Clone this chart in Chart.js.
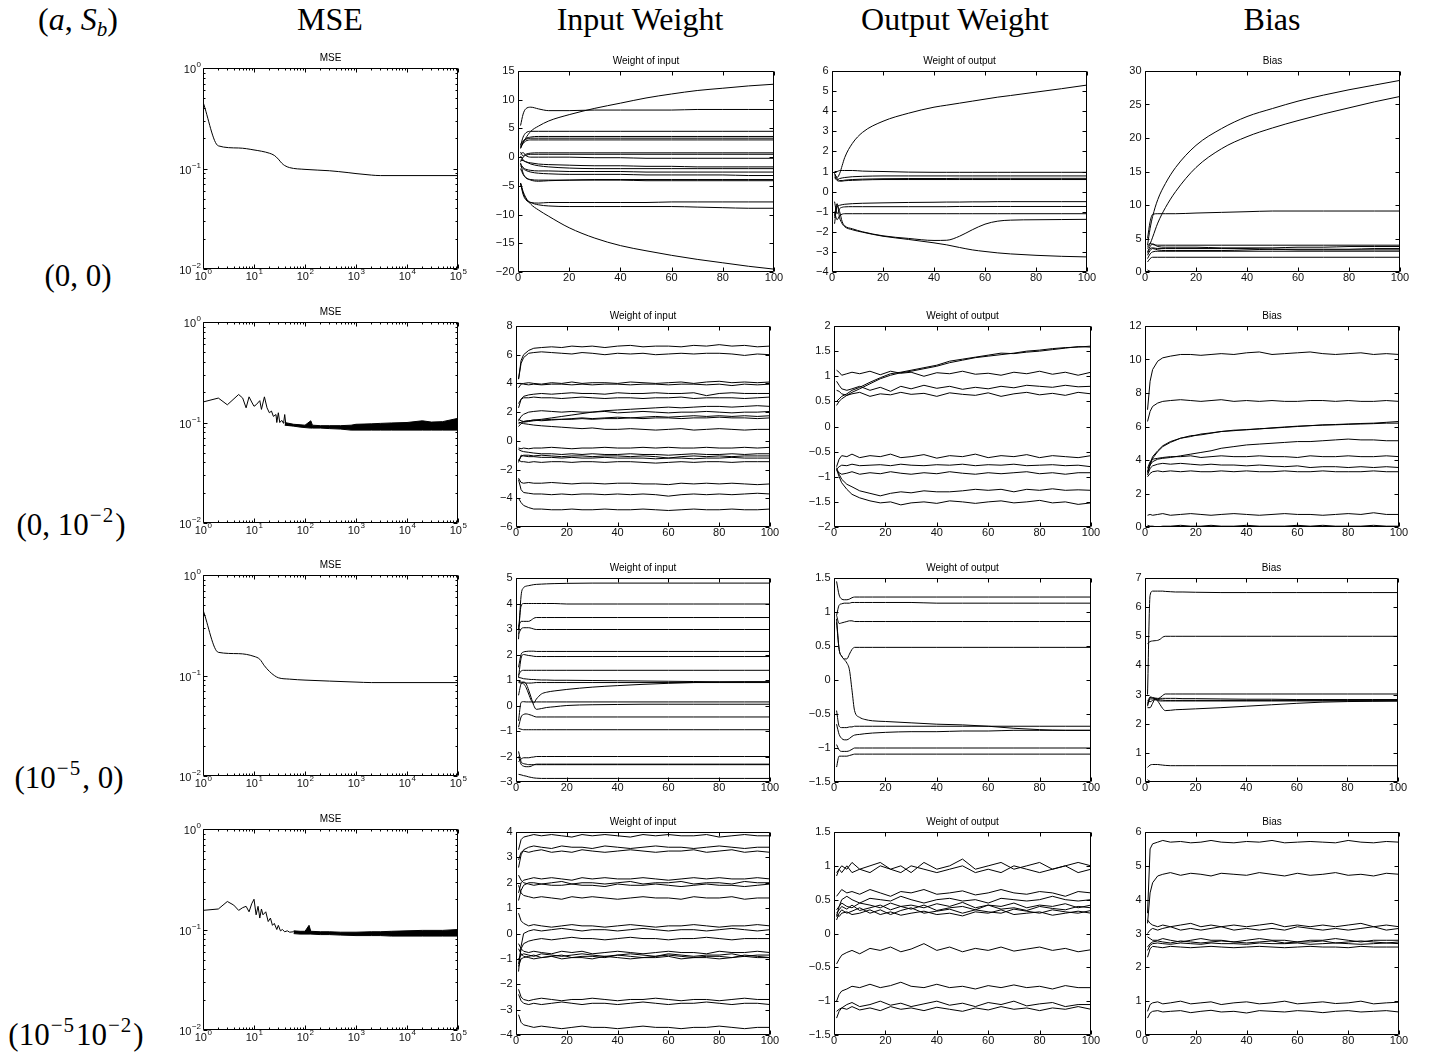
<!DOCTYPE html>
<html><head><meta charset="utf-8">
<script src="https://cdn.jsdelivr.net/npm/chart.js@4.4.1/dist/chart.umd.min.js"></script>
<style>
html,body{margin:0;padding:0;background:#fff}
body{width:1436px;height:1059px;overflow:hidden;position:relative;font-family:"Liberation Serif","Times New Roman",serif}
.h{position:absolute;font-size:32px;line-height:32px;white-space:nowrap;transform:translateX(-50%);color:#000;z-index:5}
.r{font-size:31px;line-height:31px}
.h sup{font-size:21px;position:relative;top:-13px;vertical-align:baseline;line-height:0;letter-spacing:1px;margin:0 1px}
.h sub{font-size:21px;position:relative;top:6px;vertical-align:baseline;line-height:0}
canvas{position:absolute}
</style></head><body>
<div class="h" style="left:78px;top:3px">(<i>a</i>, <i>S<sub>b</sub></i>)</div>
<div class="h" style="left:330px;top:3px">MSE</div>
<div class="h" style="left:640px;top:3px">Input Weight</div>
<div class="h" style="left:955px;top:3px">Output Weight</div>
<div class="h" style="left:1272px;top:3px">Bias</div>
<div class="h r" style="left:78px;top:260px">(0, 0)</div>
<div class="h r" style="left:71px;top:509px">(0, 10<sup>−2</sup>)</div>
<div class="h r" style="left:69px;top:762px">(10<sup>−5</sup>, 0)</div>
<div class="h r" style="left:76px;top:1019px">(10<sup>−5</sup>10<sup>−2</sup>)</div>
<script>
// ---------------- shared x samples (iterations) ----------------
const X_A = [1,2,3,5,8,12,20,30,40,50,60,70,80,90,100];
const X_B = [1,2,3,4,5,8,12,20,30,40,45,50,55,60,65,70,80,90,100];
const X_N = [1,2,3,5,7,10,14,18,22,26,30,35,40,45,50,55,60,65,70,75,80,85,90,95,100];
const X_C = [1,2,3,4,5,6,7,8,10,12,15,20,30,40,50,60,70,80,90,100];
const MSE_X_TICKS = [1,10,100,1000,10000,100000];
const MSE_Y_TICKS = [0.01,0.1,1];

// ---------------- row 1 : (0,0) ----------------
const r1MseX = [1,2,5,10,20,25,30,35,40,50,100,300,700,1000,2000,3000,100000];
const r1MseY = [0.46,0.168,0.16,0.153,0.142,0.135,0.124,0.113,0.107,0.102,0.098,0.095,0.091,0.089,0.086,0.085,0.085];
const r1In = [
 [1.5,2.5,3.3,4.5,5.4,6.3,7.4,8.5,9.4,10.3,11.0,11.6,12.0,12.4,12.7],
 [5.5,7.5,8.4,8.7,8.4,8.1,8.1,8.2,8.2,8.2,8.2,8.3,8.3,8.3,8.3],
 [2.0,3.5,4.2,4.5,4.5,4.5,4.5,4.5,4.5,4.5,4.5,4.5,4.5,4.5,4.5],
 [1.6,2.6,3.2,3.5,3.6,3.6,3.6,3.6,3.6,3.6,3.6,3.6,3.6,3.6,3.6],
 [2.2,2.8,3.1,3.3,3.3,3.3,3.3,3.3,3.3,3.3,3.3,3.3,3.3,3.3,3.3],
 [1.8,2.4,2.8,3.0,3.0,3.0,3.0,3.0,3.0,3.0,3.0,3.0,3.0,3.0,3.0],
 [0.9,0.2,0.5,0.7,0.75,0.75,0.75,0.75,0.75,0.75,0.75,0.75,0.75,0.75,0.75],
 [-0.8,0.0,0.3,0.5,0.5,0.5,0.5,0.5,0.5,0.5,0.5,0.5,0.5,0.5,0.5],
 [0.5,0.8,0.3,0.0,0.0,0.0,0.0,-0.1,-0.1,-0.2,-0.2,-0.2,-0.2,-0.2,-0.2],
 [0.2,-0.5,-0.8,-1.0,-1.2,-1.3,-1.4,-1.5,-1.5,-1.6,-1.6,-1.7,-1.7,-1.7,-1.7],
 [-0.5,-0.6,-0.8,-1.2,-1.5,-1.7,-1.9,-2.0,-2.0,-2.0,-2.0,-2.0,-2.0,-2.0,-2.0],
 [-1.2,-1.8,-2.1,-2.3,-2.4,-2.4,-2.5,-2.5,-2.5,-2.6,-2.6,-2.6,-2.6,-2.6,-2.6],
 [-1.5,-2.0,-2.3,-2.6,-2.8,-2.9,-3.0,-3.0,-3.0,-3.1,-3.1,-3.1,-3.1,-3.2,-3.2],
 [-1.0,-2.8,-3.5,-4.0,-4.2,-4.1,-4.0,-3.9,-3.9,-3.9,-3.9,-3.9,-3.9,-3.9,-3.9],
 [-2.0,-3.0,-3.6,-3.9,-4.0,-4.0,-4.0,-4.0,-4.0,-4.1,-4.1,-4.1,-4.1,-4.1,-4.1],
 [-4.5,-6.5,-7.4,-7.9,-8.0,-7.9,-7.9,-7.9,-7.9,-7.9,-7.8,-7.8,-7.8,-7.8,-7.8],
 [-4.6,-6.2,-7.2,-7.9,-8.3,-8.5,-8.6,-8.6,-8.6,-8.6,-8.6,-8.7,-8.8,-8.9,-8.9],
 [-4.5,-6.0,-7.0,-8.2,-9.2,-10.3,-12.3,-14.1,-15.4,-16.3,-17.1,-17.8,-18.4,-19.0,-19.5]
];
const r1Out = [
 [0.9,0.7,0.9,1.3,1.7,2.4,2.95,3.5,3.9,4.2,4.3,4.4,4.5,4.6,4.7,4.78,4.95,5.12,5.3],
 [1.0,1.0,1.05,1.05,1.05,1.05,1.02,1.0,0.97,0.96,0.96,0.96,0.96,0.96,0.96,0.96,0.96,0.96,0.96],
 [0.8,0.6,0.65,0.68,0.7,0.74,0.76,0.78,0.78,0.78,0.78,0.78,0.78,0.78,0.78,0.78,0.78,0.78,0.78],
 [0.9,0.65,0.55,0.55,0.57,0.6,0.62,0.64,0.65,0.65,0.65,0.66,0.66,0.66,0.66,0.66,0.66,0.66,0.66],
 [0.7,0.55,0.52,0.52,0.54,0.56,0.58,0.6,0.6,0.6,0.6,0.6,0.6,0.6,0.6,0.6,0.6,0.6,0.6],
 [-1.3,-0.75,-0.68,-0.65,-0.63,-0.6,-0.58,-0.56,-0.54,-0.53,-0.52,-0.52,-0.51,-0.51,-0.5,-0.5,-0.5,-0.5,-0.5],
 [-0.5,-1.1,-0.85,-0.78,-0.76,-0.75,-0.75,-0.75,-0.75,-0.75,-0.75,-0.74,-0.74,-0.74,-0.74,-0.74,-0.74,-0.74,-0.74],
 [-1.0,-1.4,-1.2,-1.12,-1.1,-1.1,-1.1,-1.1,-1.1,-1.1,-1.1,-1.1,-1.1,-1.1,-1.1,-1.1,-1.1,-1.1,-1.1],
 [-1.6,-0.7,-1.0,-1.5,-1.7,-1.85,-2.0,-2.2,-2.33,-2.43,-2.42,-2.22,-1.9,-1.62,-1.47,-1.42,-1.4,-1.39,-1.38],
 [-1.2,-0.6,-1.3,-1.6,-1.75,-1.9,-2.02,-2.22,-2.38,-2.55,-2.65,-2.78,-2.9,-2.98,-3.05,-3.1,-3.17,-3.22,-3.25]
];
const r1Bias = [
 [4.0,6.5,8.3,10.8,13.2,15.6,18.9,21.4,23.2,24.4,25.5,26.4,27.2,27.9,28.6],
 [3.5,4.2,5.2,7.3,9.6,12.0,15.6,18.4,20.2,21.5,22.6,23.6,24.5,25.4,26.2],
 [5.0,7.5,8.6,8.7,8.7,8.7,8.8,8.9,9.0,9.1,9.1,9.1,9.1,9.1,9.1],
 [3.8,4.3,4.1,4.0,4.0,4.0,4.0,4.0,4.0,4.0,4.0,4.0,4.0,4.0,4.0],
 [3.0,3.8,4.2,3.8,3.7,3.7,3.7,3.6,3.6,3.6,3.7,3.7,3.8,3.8,3.8],
 [2.8,3.5,3.6,3.5,3.5,3.5,3.5,3.5,3.5,3.4,3.4,3.4,3.4,3.5,3.5],
 [2.5,3.2,3.5,3.3,3.2,3.2,3.2,3.2,3.3,3.4,3.3,3.3,3.3,3.3,3.3],
 [2.0,2.7,3.0,3.1,3.1,3.1,3.1,3.1,3.1,3.1,3.1,3.1,3.1,3.1,3.1],
 [1.5,2.0,2.2,2.2,2.2,2.2,2.2,2.2,2.2,2.2,2.2,2.2,2.2,2.2,2.2],
 [0.3,0.1,0.05,0.02,0,0,0,0,0,0,0,0,0,0,0]
];

// ---------------- row 2 : (0, 1e-2) ----------------
const r2MseX = [1,2,3,5,6,7,8,9,10,11,13,14,16,18,20,22,24,27,28,30,32,35,38,40,42,50,70];
const r2MseY = [0.16,0.175,0.15,0.19,0.175,0.14,0.18,0.16,0.145,0.15,0.165,0.135,0.18,0.14,0.125,0.13,0.115,0.12,0.1,0.125,0.1,0.105,0.098,0.12,0.097,0.094,0.093];
const r2BandX = [40,60,80,100,130,140,200,300,500,800,1000,2000,3000,5000,10000,20000,30000,50000,100000];
const r2BandHi = [0.1,0.096,0.095,0.094,0.104,0.094,0.093,0.093,0.093,0.094,0.096,0.097,0.098,0.099,0.1,0.104,0.101,0.102,0.11];
const r2BandLo = [0.094,0.092,0.09,0.089,0.088,0.088,0.088,0.087,0.086,0.084,0.084,0.084,0.084,0.084,0.084,0.084,0.084,0.084,0.084];
const r2In = [
 [4.3,5.6,6.0,6.3,6.45,6.5,6.55,6.5,6.6,6.55,6.6,6.5,6.6,6.65,6.55,6.6,6.6,6.55,6.65,6.6,6.7,6.6,6.65,6.55,6.6],
 [4.3,5.4,5.8,6.1,6.15,6.2,6.15,6.1,6.05,6.15,6.1,6.0,6.1,6.05,6.1,6.0,6.05,6.1,6.05,6.1,6.1,6.05,5.95,6.05,6.0],
 [3.7,3.95,4.0,4.05,4.0,3.95,4.05,4.0,4.1,4.0,4.05,4.05,4.0,4.1,4.05,4.0,4.05,4.1,4.0,4.1,4.15,4.05,4.1,4.05,4.1],
 [4.0,4.0,3.95,3.9,3.95,3.9,3.95,3.95,3.9,3.95,3.9,3.95,3.95,3.9,3.95,3.95,3.9,3.95,3.95,3.9,3.95,3.85,3.95,3.9,3.95],
 [2.3,2.9,3.1,3.2,3.25,3.3,3.25,3.3,3.35,3.3,3.3,3.25,3.35,3.3,3.3,3.35,3.3,3.3,3.35,3.15,3.3,3.35,3.3,3.3,3.3],
 [2.6,2.9,3.0,3.0,3.05,3.0,3.0,2.95,3.0,3.05,3.0,2.95,3.0,3.0,2.95,3.0,3.0,3.05,2.95,3.0,3.0,3.0,2.95,3.0,3.05],
 [1.5,1.4,1.35,1.4,1.45,1.5,1.6,1.7,1.8,1.9,2.0,2.1,2.15,2.2,2.25,2.3,2.35,2.3,2.35,2.4,2.4,2.35,2.4,2.45,2.4],
 [1.4,1.7,1.85,2.0,2.05,2.1,2.05,2.0,2.05,2.0,2.0,2.05,1.95,2.0,2.05,2.0,1.95,2.0,2.0,2.05,2.0,1.95,2.0,2.0,2.05],
 [1.0,1.2,1.3,1.35,1.4,1.45,1.5,1.5,1.55,1.6,1.55,1.6,1.65,1.6,1.65,1.7,1.65,1.7,1.75,1.7,1.75,1.7,1.75,1.7,1.75],
 [1.2,1.3,1.35,1.4,1.45,1.4,1.45,1.5,1.5,1.55,1.5,1.55,1.55,1.6,1.55,1.6,1.6,1.55,1.6,1.6,1.65,1.6,1.6,1.55,1.6],
 [1.3,1.25,1.2,1.15,1.1,1.05,1.0,0.95,0.9,0.85,0.9,0.8,0.8,0.85,0.8,0.75,0.8,0.85,0.75,0.8,0.85,0.8,0.75,0.8,0.8],
 [-0.5,-0.55,-0.5,-0.55,-0.5,-0.5,-0.45,-0.5,-0.55,-0.5,-0.5,-0.45,-0.5,-0.5,-0.45,-0.5,-0.45,-0.5,-0.5,-0.45,-0.5,-0.5,-0.45,-0.5,-0.45],
 [-0.6,-0.7,-0.75,-0.8,-0.85,-0.9,-0.9,-0.95,-0.9,-0.95,-0.9,-0.95,-0.95,-0.9,-0.95,-0.95,-1.0,-0.95,-0.9,-0.95,-0.95,-0.9,-0.95,-0.9,-0.9],
 [-1.4,-1.1,-1.0,-1.0,-1.05,-1.0,-1.05,-1.1,-1.05,-1.05,-1.1,-1.05,-1.05,-1.1,-1.05,-1.1,-1.2,-1.1,-1.05,-1.1,-1.05,-1.1,-1.05,-1.05,-1.05],
 [-1.5,-1.0,-1.05,-1.1,-1.1,-1.15,-1.15,-1.2,-1.15,-1.2,-1.2,-1.15,-1.2,-1.2,-1.2,-1.25,-1.2,-1.2,-1.25,-1.2,-1.2,-1.15,-1.2,-1.2,-1.2],
 [-1.3,-1.45,-1.45,-1.5,-1.45,-1.5,-1.45,-1.45,-1.5,-1.45,-1.45,-1.5,-1.45,-1.45,-1.5,-1.55,-1.5,-1.45,-1.5,-1.45,-1.45,-1.5,-1.45,-1.45,-1.45],
 [-2.6,-2.9,-2.95,-2.9,-2.95,-2.95,-2.9,-2.95,-3.0,-2.95,-2.95,-3.0,-2.95,-2.95,-3.0,-3.0,-3.05,-2.95,-3.0,-2.95,-3.0,-2.95,-3.0,-3.05,-3.0],
 [-2.7,-3.4,-3.6,-3.65,-3.7,-3.7,-3.75,-3.7,-3.75,-3.7,-3.7,-3.75,-3.7,-3.75,-3.7,-3.75,-3.85,-3.75,-3.7,-3.75,-3.7,-3.75,-3.7,-3.65,-3.7],
 [-4.0,-4.3,-4.5,-4.65,-4.75,-4.75,-4.8,-4.8,-4.75,-4.8,-4.8,-4.75,-4.8,-4.8,-4.75,-4.8,-4.85,-4.8,-4.75,-4.8,-4.8,-4.75,-4.8,-4.8,-4.75]
];
const r2Out = [
 [0.42,0.5,0.55,0.62,0.68,0.75,0.85,0.95,1.02,1.07,1.1,1.15,1.2,1.27,1.32,1.37,1.4,1.43,1.46,1.5,1.52,1.55,1.57,1.58,1.6],
 [0.5,0.55,0.6,0.65,0.72,0.78,0.88,0.97,1.05,1.08,1.12,1.17,1.22,1.3,1.34,1.38,1.42,1.46,1.45,1.48,1.5,1.53,1.56,1.59,1.58],
 [1.12,1.08,1.02,1.05,1.08,1.05,1.1,1.03,1.1,1.06,1.08,1.0,1.07,1.05,1.1,1.04,1.06,1.02,1.08,1.05,1.1,1.04,1.08,1.02,1.08],
 [0.9,0.82,0.75,0.72,0.75,0.8,0.72,0.78,0.7,0.8,0.75,0.82,0.76,0.8,0.74,0.78,0.75,0.8,0.77,0.82,0.8,0.78,0.82,0.79,0.8],
 [0.72,0.7,0.65,0.62,0.65,0.68,0.6,0.65,0.63,0.68,0.64,0.66,0.6,0.67,0.64,0.62,0.67,0.6,0.65,0.68,0.63,0.66,0.62,0.68,0.65],
 [-0.8,-0.65,-0.58,-0.6,-0.55,-0.62,-0.58,-0.6,-0.55,-0.62,-0.6,-0.56,-0.63,-0.58,-0.6,-0.55,-0.62,-0.58,-0.6,-0.56,-0.62,-0.58,-0.6,-0.62,-0.58],
 [-0.85,-0.8,-0.77,-0.78,-0.75,-0.78,-0.77,-0.76,-0.78,-0.75,-0.77,-0.78,-0.76,-0.77,-0.75,-0.78,-0.76,-0.77,-0.75,-0.78,-0.77,-0.76,-0.78,-0.77,-0.8],
 [-0.88,-0.92,-0.95,-0.93,-0.9,-0.95,-0.92,-0.94,-0.9,-0.93,-0.95,-0.92,-0.94,-0.9,-0.93,-0.95,-0.92,-0.94,-0.92,-0.9,-0.94,-0.92,-0.95,-0.92,-0.92],
 [-0.82,-0.95,-1.05,-1.15,-1.2,-1.28,-1.33,-1.38,-1.33,-1.3,-1.32,-1.28,-1.3,-1.3,-1.28,-1.25,-1.27,-1.25,-1.3,-1.25,-1.27,-1.24,-1.27,-1.26,-1.27],
 [-0.85,-1.0,-1.12,-1.25,-1.35,-1.42,-1.48,-1.52,-1.5,-1.56,-1.52,-1.5,-1.53,-1.48,-1.5,-1.53,-1.5,-1.48,-1.52,-1.5,-1.47,-1.52,-1.5,-1.55,-1.52]
];
const r2Bias = [
 [7.0,8.7,9.4,9.9,10.1,10.2,10.3,10.3,10.25,10.3,10.35,10.3,10.4,10.45,10.3,10.35,10.4,10.45,10.35,10.3,10.35,10.4,10.3,10.35,10.3],
 [6.3,6.9,7.2,7.4,7.5,7.55,7.6,7.55,7.5,7.55,7.6,7.5,7.55,7.5,7.55,7.5,7.5,7.55,7.55,7.5,7.55,7.5,7.5,7.55,7.5],
 [3.2,3.7,4.1,4.5,4.8,5.05,5.3,5.45,5.5,5.6,5.7,5.78,5.8,5.87,5.9,5.95,6.0,6.05,6.1,6.12,6.15,6.18,6.2,6.25,6.3],
 [3.3,3.8,4.2,4.55,4.85,5.1,5.3,5.4,5.55,5.62,5.7,5.75,5.82,5.85,5.92,5.97,6.02,6.05,6.08,6.1,6.13,6.15,6.17,6.2,6.2],
 [3.3,3.7,3.9,4.05,4.1,4.15,4.25,4.35,4.45,4.55,4.7,4.8,4.9,4.95,5.0,5.05,5.1,5.1,5.15,5.2,5.25,5.2,5.2,5.15,5.15],
 [3.5,3.9,4.05,4.1,4.15,4.2,4.2,4.25,4.15,4.2,4.25,4.2,4.2,4.25,4.2,4.2,4.15,4.25,4.2,4.2,4.25,4.2,4.2,4.25,4.2],
 [3.1,3.5,3.65,3.75,3.8,3.75,3.8,3.75,3.7,3.75,3.7,3.7,3.65,3.7,3.65,3.6,3.65,3.55,3.6,3.6,3.55,3.6,3.55,3.6,3.55],
 [3.0,3.2,3.3,3.35,3.3,3.35,3.3,3.35,3.3,3.3,3.35,3.3,3.35,3.3,3.3,3.35,3.3,3.3,3.35,3.3,3.3,3.3,3.35,3.3,3.3],
 [0.7,0.75,0.7,0.75,0.8,0.7,0.75,0.8,0.75,0.7,0.75,0.8,0.75,0.7,0.75,0.8,0.75,0.75,0.7,0.75,0.8,0.75,0.85,0.75,0.75],
 [0.1,0.05,0.05,0.0,0.05,0.05,0.1,0.05,0.05,0.1,0.05,0.05,0.1,0.05,0.05,0.05,0.1,0.05,0.1,0.05,0.05,0.05,0.1,0.05,0.05],
 [0.0,0.02,0.0,0.01,0.0,0.02,0.0,0.01,0.0,0.02,0.0,0.01,0.0,0.02,0.0,0.01,0.0,0.02,0.0,0.01,0.0,0.02,0.0,0.01,0.0]
];

// ---------------- row 3 : (1e-5, 0) ----------------
const r3MseX = [1,2,5,10,13,16,20,25,30,50,100,300,1000,2000,100000];
const r3MseY = [0.45,0.17,0.165,0.155,0.145,0.125,0.11,0.1,0.095,0.092,0.09,0.088,0.086,0.085,0.085];
const r3In = [
 [2.6,4.3,4.62,4.68,4.7,4.72,4.74,4.75,4.76,4.77,4.78,4.79,4.8,4.8,4.8,4.8,4.8,4.8,4.8,4.8],
 [3.0,3.9,4.0,4.0,4.0,4.0,4.0,4.0,4.0,4.0,4.0,3.98,3.98,3.98,3.98,3.98,3.98,3.98,3.98,3.98],
 [3.1,3.3,3.3,3.3,3.3,3.35,3.42,3.45,3.45,3.45,3.45,3.45,3.45,3.45,3.45,3.45,3.45,3.45,3.45,3.45],
 [2.8,3.0,3.05,3.05,3.05,3.03,3.0,2.98,2.98,2.98,2.98,2.98,2.98,2.98,2.98,2.98,2.98,2.98,2.98,2.98],
 [1.5,2.0,2.1,2.12,2.13,2.13,2.13,2.12,2.12,2.12,2.12,2.12,2.12,2.12,2.12,2.12,2.12,2.12,2.12,2.12],
 [1.1,1.85,2.0,1.98,1.96,1.95,1.93,1.92,1.92,1.92,1.92,1.92,1.92,1.92,1.92,1.92,1.92,1.92,1.92,1.92],
 [1.2,1.35,1.38,1.38,1.38,1.38,1.38,1.38,1.38,1.38,1.38,1.38,1.38,1.38,1.38,1.38,1.38,1.38,1.38,1.38],
 [1.1,1.08,1.05,1.04,1.03,1.02,1.02,1.01,1.0,1.0,0.99,0.99,0.98,0.97,0.96,0.95,0.94,0.93,0.93,0.93],
 [0.95,0.92,0.9,0.88,0.88,0.88,0.89,0.9,0.9,0.9,0.9,0.9,0.9,0.9,0.9,0.9,0.9,0.9,0.9,0.9],
 [0.9,0.88,0.85,0.7,0.45,0.2,0.1,0.25,0.45,0.52,0.57,0.63,0.72,0.78,0.83,0.87,0.9,0.92,0.93,0.93],
 [0.4,0.85,0.92,0.85,0.6,0.3,0.0,-0.15,-0.12,-0.08,-0.05,0.0,0.03,0.04,0.05,0.05,0.05,0.05,0.05,0.05],
 [-0.6,0.12,0.15,0.14,0.14,0.14,0.14,0.14,0.14,0.14,0.14,0.14,0.14,0.14,0.14,0.14,0.14,0.14,0.14,0.14],
 [-0.85,-0.45,-0.35,-0.33,-0.35,-0.38,-0.42,-0.45,-0.45,-0.45,-0.45,-0.45,-0.45,-0.45,-0.45,-0.45,-0.45,-0.45,-0.45,-0.45],
 [-0.9,-0.93,-0.95,-0.95,-0.95,-0.95,-0.95,-0.95,-0.95,-0.95,-0.95,-0.95,-0.95,-0.95,-0.95,-0.95,-0.95,-0.95,-0.95,-0.95],
 [-2.2,-2.1,-2.05,-2.05,-2.05,-2.03,-2.02,-2.0,-2.0,-2.0,-2.0,-2.0,-2.0,-2.0,-2.0,-2.0,-2.0,-2.0,-2.0,-2.0],
 [-2.0,-2.3,-2.38,-2.4,-2.4,-2.38,-2.33,-2.3,-2.3,-2.3,-2.3,-2.3,-2.3,-2.3,-2.3,-2.3,-2.3,-2.3,-2.3,-2.3],
 [-1.8,-2.2,-2.28,-2.3,-2.32,-2.32,-2.32,-2.32,-2.32,-2.32,-2.32,-2.32,-2.32,-2.32,-2.32,-2.32,-2.32,-2.32,-2.32,-2.32],
 [-2.7,-2.72,-2.75,-2.77,-2.8,-2.82,-2.84,-2.85,-2.86,-2.86,-2.86,-2.86,-2.86,-2.86,-2.86,-2.86,-2.86,-2.86,-2.86,-2.86]
];
const r3Out = [
 [1.45,1.25,1.19,1.18,1.18,1.19,1.21,1.22,1.22,1.22,1.22,1.22,1.22,1.22,1.22,1.22,1.22,1.22,1.22,1.22],
 [0.95,1.1,1.12,1.13,1.13,1.13,1.14,1.14,1.14,1.14,1.14,1.14,1.14,1.13,1.13,1.13,1.13,1.13,1.13,1.13],
 [0.95,0.83,0.84,0.85,0.86,0.87,0.87,0.86,0.86,0.86,0.86,0.86,0.86,0.86,0.86,0.86,0.86,0.86,0.86,0.86],
 [0.9,0.45,0.35,0.31,0.31,0.38,0.45,0.48,0.48,0.48,0.48,0.48,0.48,0.48,0.48,0.48,0.48,0.48,0.48,0.48],
 [0.85,0.45,0.35,0.3,0.25,0.15,-0.15,-0.45,-0.55,-0.58,-0.6,-0.61,-0.63,-0.65,-0.66,-0.68,-0.71,-0.73,-0.74,-0.74],
 [-0.45,-0.68,-0.7,-0.7,-0.7,-0.69,-0.69,-0.68,-0.68,-0.68,-0.68,-0.68,-0.68,-0.68,-0.68,-0.68,-0.68,-0.68,-0.68,-0.68],
 [-0.65,-0.8,-0.86,-0.88,-0.88,-0.86,-0.83,-0.81,-0.8,-0.79,-0.78,-0.77,-0.76,-0.76,-0.75,-0.75,-0.74,-0.74,-0.74,-0.74],
 [-0.95,-1.03,-1.05,-1.05,-1.05,-1.04,-1.02,-1.0,-1.0,-1.0,-1.0,-1.0,-1.0,-1.0,-1.0,-1.0,-1.0,-1.0,-1.0,-1.0],
 [-1.28,-1.12,-1.12,-1.12,-1.12,-1.11,-1.1,-1.09,-1.09,-1.09,-1.09,-1.09,-1.09,-1.09,-1.09,-1.09,-1.09,-1.09,-1.09,-1.09]
];
const r3Bias = [
 [3.0,6.4,6.55,6.55,6.55,6.55,6.55,6.54,6.53,6.52,6.52,6.51,6.5,6.5,6.5,6.5,6.5,6.5,6.5,6.5],
 [4.75,4.82,4.84,4.85,4.86,4.9,4.97,5.0,5.0,5.0,5.0,5.0,5.0,5.0,5.0,5.0,5.0,5.0,5.0,5.0],
 [2.6,2.9,2.88,2.86,2.85,2.9,2.97,3.02,3.02,3.02,3.02,3.02,3.02,3.02,3.02,3.02,3.02,3.02,3.02,3.02],
 [2.7,2.92,2.9,2.88,2.87,2.87,2.87,2.87,2.87,2.87,2.86,2.86,2.85,2.84,2.84,2.83,2.83,2.83,2.83,2.83],
 [2.65,2.85,2.85,2.84,2.83,2.82,2.81,2.8,2.8,2.8,2.8,2.8,2.8,2.8,2.8,2.8,2.8,2.8,2.8,2.8],
 [2.8,2.75,2.8,2.82,2.8,2.78,2.78,2.78,2.78,2.78,2.78,2.78,2.78,2.78,2.78,2.78,2.78,2.78,2.78,2.78],
 [2.55,2.55,2.7,2.85,2.78,2.65,2.52,2.45,2.46,2.48,2.49,2.51,2.55,2.6,2.65,2.7,2.74,2.76,2.77,2.78],
 [0.5,0.58,0.6,0.6,0.6,0.59,0.58,0.57,0.56,0.56,0.56,0.56,0.56,0.56,0.56,0.56,0.56,0.56,0.56,0.56],
 [0.08,0.02,0.01,0,0,0,0,0,0,0,0,0,0,0,0,0,0,0,0,0]
];

// ---------------- row 4 : (1e-5, 1e-2) ----------------
const r4MseX = [1,2,3,4,5,6,7,8,9,10,11,12,13,14,15,17,19,21,23,25,28,30,33,36,40,45,50,60,70];
const r4MseY = [0.155,0.16,0.19,0.175,0.155,0.165,0.17,0.15,0.18,0.2,0.14,0.17,0.13,0.16,0.14,0.15,0.12,0.13,0.11,0.115,0.1,0.11,0.097,0.1,0.095,0.097,0.094,0.095,0.093];
const r4BandX = [60,80,100,120,130,200,300,500,1000,2000,3000,5000,10000,20000,50000,100000];
const r4BandHi = [0.097,0.096,0.096,0.11,0.096,0.095,0.095,0.094,0.094,0.095,0.095,0.096,0.097,0.098,0.098,0.1];
const r4BandLo = [0.091,0.09,0.09,0.09,0.09,0.089,0.089,0.088,0.087,0.087,0.087,0.086,0.086,0.086,0.086,0.086];
const r4In = [
 [3.3,3.7,3.8,3.85,3.9,3.85,3.9,3.85,3.8,3.9,3.85,3.9,3.85,3.8,3.9,3.85,3.9,3.85,3.85,3.9,3.8,3.85,3.9,3.85,3.85],
 [2.6,3.1,3.3,3.4,3.45,3.4,3.35,3.45,3.4,3.4,3.35,3.45,3.4,3.35,3.4,3.45,3.4,3.4,3.35,3.4,3.45,3.4,3.35,3.4,3.4],
 [2.9,3.2,3.25,3.2,3.25,3.3,3.2,3.25,3.2,3.3,3.25,3.2,3.25,3.3,3.25,3.2,3.25,3.25,3.3,3.2,3.25,3.3,3.2,3.25,3.2],
 [1.6,2.0,2.1,2.15,2.2,2.15,2.2,2.15,2.1,2.2,2.15,2.2,2.15,2.15,2.2,2.15,2.1,2.15,2.2,2.15,2.2,2.15,2.15,2.2,2.15],
 [1.3,1.7,1.9,2.0,2.0,1.95,2.0,2.05,1.95,2.0,2.0,1.95,2.0,2.05,1.95,2.0,2.0,2.05,1.95,2.0,2.0,1.95,2.05,2.0,2.0],
 [2.3,2.1,2.0,1.95,1.9,1.95,1.9,1.9,1.95,1.9,1.9,1.85,1.95,1.9,1.9,1.95,1.9,1.85,1.9,1.95,1.9,1.9,1.85,1.9,1.95],
 [1.9,1.6,1.5,1.45,1.4,1.45,1.4,1.35,1.45,1.4,1.45,1.4,1.35,1.4,1.45,1.4,1.4,1.35,1.45,1.4,1.4,1.45,1.35,1.4,1.4],
 [0.8,0.5,0.4,0.3,0.35,0.3,0.25,0.3,0.35,0.3,0.3,0.25,0.3,0.35,0.3,0.25,0.3,0.3,0.35,0.3,0.25,0.3,0.3,0.35,0.3],
 [-1.5,-0.5,0.0,0.1,0.15,0.1,0.15,0.2,0.15,0.1,0.15,0.15,0.1,0.15,0.2,0.15,0.1,0.15,0.15,0.1,0.15,0.2,0.15,0.1,0.15],
 [-1.2,-0.6,-0.4,-0.3,-0.25,-0.2,-0.25,-0.2,-0.15,-0.2,-0.2,-0.25,-0.2,-0.15,-0.2,-0.2,-0.25,-0.2,-0.2,-0.15,-0.2,-0.25,-0.2,-0.2,-0.2],
 [-0.4,-0.6,-0.7,-0.75,-0.7,-0.75,-0.8,-0.7,-0.75,-0.7,-0.8,-0.75,-0.7,-0.75,-0.8,-0.75,-0.7,-0.75,-0.75,-0.8,-0.7,-0.75,-0.75,-0.7,-0.75],
 [-1.0,-0.85,-0.8,-0.85,-0.9,-0.8,-0.85,-0.9,-0.85,-0.8,-0.85,-0.9,-0.85,-0.8,-0.85,-0.9,-0.8,-0.85,-0.9,-0.85,-0.85,-0.8,-0.9,-0.85,-0.85],
 [-1.3,-1.0,-0.95,-0.9,-0.85,-0.95,-0.9,-0.85,-0.95,-0.9,-0.9,-0.95,-0.85,-0.9,-0.95,-0.9,-0.85,-0.9,-0.95,-0.9,-0.9,-0.95,-0.85,-0.9,-0.95],
 [-0.6,-0.8,-0.9,-0.95,-1.0,-0.95,-0.9,-1.0,-0.95,-0.95,-1.0,-0.9,-0.95,-1.0,-0.95,-0.95,-0.9,-1.0,-0.95,-0.95,-1.0,-0.95,-0.9,-0.95,-0.95],
 [-2.2,-2.5,-2.6,-2.65,-2.6,-2.55,-2.6,-2.65,-2.6,-2.6,-2.55,-2.6,-2.65,-2.6,-2.6,-2.55,-2.6,-2.65,-2.6,-2.6,-2.65,-2.6,-2.55,-2.6,-2.6],
 [-2.4,-2.65,-2.75,-2.8,-2.75,-2.8,-2.75,-2.7,-2.75,-2.8,-2.75,-2.75,-2.8,-2.75,-2.7,-2.75,-2.8,-2.75,-2.75,-2.7,-2.75,-2.8,-2.75,-2.75,-2.8],
 [-3.2,-3.5,-3.6,-3.65,-3.7,-3.65,-3.7,-3.75,-3.7,-3.65,-3.7,-3.7,-3.75,-3.7,-3.65,-3.7,-3.7,-3.75,-3.7,-3.7,-3.65,-3.7,-3.75,-3.7,-3.7]
];
const r4Out = [
 [0.85,0.95,1.0,0.95,1.05,0.95,1.0,1.05,0.95,1.0,0.9,1.05,0.95,1.0,1.1,0.95,1.0,1.05,0.95,1.0,1.05,0.95,1.0,1.05,1.0],
 [0.9,0.95,0.9,1.0,0.9,0.95,0.9,1.0,0.95,0.9,1.0,0.95,0.9,0.95,1.0,0.9,0.95,0.9,1.0,0.95,0.9,0.95,1.0,0.9,0.95],
 [0.55,0.6,0.65,0.6,0.62,0.58,0.65,0.6,0.55,0.62,0.6,0.65,0.58,0.6,0.63,0.57,0.6,0.65,0.6,0.58,0.62,0.6,0.55,0.62,0.6],
 [0.25,0.4,0.5,0.55,0.5,0.45,0.52,0.5,0.48,0.55,0.5,0.45,0.5,0.52,0.48,0.5,0.45,0.52,0.5,0.48,0.5,0.55,0.5,0.48,0.5],
 [0.35,0.4,0.45,0.4,0.38,0.45,0.42,0.38,0.45,0.4,0.42,0.38,0.44,0.4,0.46,0.38,0.42,0.4,0.45,0.38,0.42,0.4,0.44,0.38,0.42],
 [0.3,0.35,0.4,0.36,0.42,0.34,0.38,0.42,0.35,0.4,0.36,0.42,0.34,0.38,0.4,0.35,0.42,0.36,0.38,0.34,0.4,0.37,0.35,0.4,0.38],
 [0.2,0.3,0.35,0.3,0.33,0.38,0.3,0.35,0.28,0.34,0.38,0.3,0.33,0.36,0.3,0.35,0.32,0.3,0.36,0.33,0.3,0.35,0.32,0.3,0.34],
 [0.28,0.25,0.3,0.32,0.28,0.3,0.35,0.28,0.32,0.27,0.3,0.33,0.28,0.3,0.26,0.32,0.3,0.35,0.28,0.3,0.32,0.27,0.3,0.33,0.3],
 [-0.45,-0.38,-0.32,-0.28,-0.25,-0.3,-0.22,-0.25,-0.2,-0.27,-0.23,-0.15,-0.25,-0.2,-0.27,-0.22,-0.25,-0.2,-0.26,-0.23,-0.2,-0.25,-0.22,-0.27,-0.24],
 [-1.0,-0.9,-0.85,-0.82,-0.78,-0.8,-0.75,-0.8,-0.77,-0.72,-0.78,-0.8,-0.75,-0.8,-0.78,-0.82,-0.77,-0.8,-0.76,-0.8,-0.78,-0.82,-0.77,-0.8,-0.8],
 [-1.25,-1.15,-1.1,-1.05,-1.02,-1.08,-1.05,-1.0,-1.06,-1.03,-1.08,-1.04,-1.0,-1.06,-1.03,-1.08,-1.02,-1.05,-1.0,-1.07,-1.04,-1.02,-1.08,-1.05,-1.05],
 [-1.15,-1.12,-1.1,-1.12,-1.08,-1.13,-1.1,-1.14,-1.08,-1.12,-1.1,-1.14,-1.09,-1.12,-1.15,-1.1,-1.13,-1.08,-1.12,-1.1,-1.14,-1.1,-1.12,-1.08,-1.12]
];
const r4Bias = [
 [3.6,5.5,5.65,5.7,5.75,5.7,5.72,5.68,5.7,5.75,5.7,5.68,5.72,5.7,5.75,5.68,5.7,5.72,5.7,5.68,5.75,5.7,5.68,5.72,5.7],
 [3.3,4.2,4.5,4.7,4.75,4.8,4.72,4.78,4.75,4.7,4.78,4.75,4.72,4.8,4.75,4.7,4.78,4.72,4.75,4.8,4.72,4.75,4.7,4.78,4.75],
 [3.4,3.3,3.25,3.2,3.25,3.2,3.25,3.3,3.2,3.25,3.2,3.25,3.2,3.25,3.3,3.2,3.25,3.2,3.25,3.2,3.25,3.3,3.2,3.25,3.2],
 [3.0,3.1,3.15,3.1,3.15,3.2,3.1,3.15,3.1,3.15,3.2,3.1,3.15,3.1,3.15,3.1,3.2,3.15,3.1,3.15,3.1,3.15,3.2,3.1,3.15],
 [2.9,2.85,2.8,2.8,2.85,2.8,2.75,2.8,2.85,2.8,2.8,2.75,2.8,2.85,2.8,2.8,2.75,2.8,2.8,2.85,2.8,2.75,2.8,2.8,2.8],
 [2.6,2.7,2.75,2.78,2.75,2.72,2.78,2.75,2.72,2.75,2.78,2.75,2.72,2.75,2.78,2.72,2.75,2.75,2.78,2.72,2.75,2.78,2.75,2.72,2.75],
 [2.5,2.65,2.7,2.72,2.7,2.68,2.72,2.7,2.68,2.72,2.7,2.7,2.68,2.72,2.7,2.7,2.72,2.68,2.7,2.72,2.7,2.68,2.7,2.72,2.7],
 [2.3,2.55,2.62,2.6,2.58,2.62,2.6,2.58,2.6,2.62,2.6,2.58,2.6,2.62,2.6,2.58,2.6,2.62,2.6,2.6,2.58,2.62,2.6,2.6,2.6],
 [0.7,0.9,0.95,0.98,0.92,0.95,1.0,0.92,0.95,0.98,0.9,0.95,0.98,0.92,0.95,1.0,0.92,0.95,0.98,0.93,0.95,1.0,0.92,0.95,0.97],
 [0.5,0.65,0.7,0.72,0.68,0.7,0.72,0.66,0.7,0.73,0.68,0.7,0.65,0.72,0.7,0.68,0.72,0.7,0.66,0.7,0.72,0.68,0.7,0.72,0.68]
];

// ---------------- panel layout ----------------
const PANELS = [
 {g:[203,68,458,269], log:true, title:'MSE', mx:r1MseX, my:r1MseY, smooth:true},
 {g:[518,71,774,272], title:'Weight of input', ymin:-20, ymax:15, step:5, X:X_A, S:r1In, smooth:true},
 {g:[832,71,1087,272], title:'Weight of output', ymin:-4, ymax:6, step:1, X:X_B, S:r1Out, smooth:true},
 {g:[1145,71,1400,272], title:'Bias', ymin:0, ymax:30, step:5, X:X_A, S:r1Bias, smooth:true},

 {g:[203,322,458,523], log:true, title:'MSE', mx:r2MseX, my:r2MseY, bx:r2BandX, bhi:r2BandHi, blo:r2BandLo},
 {g:[516,326,770,527], title:'Weight of input', ymin:-6, ymax:8, step:2, X:X_N, S:r2In},
 {g:[834,326,1091,527], title:'Weight of output', ymin:-2, ymax:2, step:0.5, X:X_N, S:r2Out},
 {g:[1145,326,1399,527], title:'Bias', ymin:0, ymax:12, step:2, X:X_N, S:r2Bias},

 {g:[203,575,458,776], log:true, title:'MSE', mx:r3MseX, my:r3MseY, smooth:true},
 {g:[516,578,770,782], title:'Weight of input', ymin:-3, ymax:5, step:1, X:X_C, S:r3In, smooth:true},
 {g:[834,578,1091,782], title:'Weight of output', ymin:-1.5, ymax:1.5, step:0.5, X:X_C, S:r3Out, smooth:true},
 {g:[1145,578,1398,782], title:'Bias', ymin:0, ymax:7, step:1, X:X_C, S:r3Bias, smooth:true},

 {g:[203,829,458,1030], log:true, title:'MSE', mx:r4MseX, my:r4MseY, bx:r4BandX, bhi:r4BandHi, blo:r4BandLo},
 {g:[516,832,770,1035], title:'Weight of input', ymin:-4, ymax:4, step:1, X:X_N, S:r4In},
 {g:[834,832,1091,1035], title:'Weight of output', ymin:-1.5, ymax:1.5, step:0.5, X:X_N, S:r4Out},
 {g:[1145,832,1399,1035], title:'Bias', ymin:0, ymax:6, step:1, X:X_N, S:r4Bias}
];

const TF = '11px "Liberation Sans", Arial, Helvetica, sans-serif';
const EF = '8px "Liberation Sans", Arial, Helvetica, sans-serif';
const TTF = '10px "Liberation Sans", Arial, Helvetica, sans-serif';
function linFmt(v){ const r=Math.round(v*100)/100; return (r<0?'\u2212':'')+String(Math.abs(r)); }

function drawPow(ctx, x, yBase, exp, align){
  const e = (exp<0?'\u2212':'')+String(Math.abs(exp));
  ctx.font = TF; const bw = ctx.measureText('10').width;
  ctx.font = EF; const ew = ctx.measureText(e).width;
  const x0 = align==='center' ? x-(bw+ew)/2 : x-bw-ew;
  ctx.textAlign='left'; ctx.textBaseline='middle';
  ctx.font = TF; ctx.fillText('10', x0, yBase);
  ctx.font = EF; ctx.fillText(e, x0+bw+0.5, yBase-5);
}

function makeFrame(p){
  return {
    id:'frame',
    afterDraw(chart){
      const ctx=chart.ctx, a=chart.chartArea, xs=chart.scales.x, ys=chart.scales.y;
      const L=Math.round(a.left)+0.5, R=Math.round(a.right)-0.5, T=Math.round(a.top)+0.5, B=Math.round(a.bottom)-0.5;
      ctx.save();
      ctx.strokeStyle='#000'; ctx.lineWidth=1;
      ctx.beginPath(); ctx.rect(L,T,R-L,B-T); ctx.stroke();
      ctx.beginPath();
      const vt=(px,len)=>{ ctx.moveTo(px,B); ctx.lineTo(px,B-len); ctx.moveTo(px,T); ctx.lineTo(px,T+len); };
      const ht=(py,len)=>{ ctx.moveTo(L,py); ctx.lineTo(L+len,py); ctx.moveTo(R,py); ctx.lineTo(R-len,py); };
      xs.ticks.forEach(t=>vt(Math.round(xs.getPixelForValue(t.value))+0.5,4));
      ys.ticks.forEach(t=>ht(Math.round(ys.getPixelForValue(t.value))+0.5,4));
      if(p.log){
        for(let d=0; d<5; d++) for(let k=2;k<10;k++) vt(Math.round(xs.getPixelForValue(k*Math.pow(10,d)))+0.5,2);
        for(let d=-2; d<0; d++) for(let k=2;k<10;k++) ht(Math.round(ys.getPixelForValue(k*Math.pow(10,d)))+0.5,2);
      }
      ctx.stroke();
      ctx.fillStyle='#111';
      if(p.log){
        xs.ticks.forEach(t=>drawPow(ctx, xs.getPixelForValue(t.value), B+8, Math.round(Math.log10(t.value)), 'center'));
        ys.ticks.forEach(t=>drawPow(ctx, L-3, ys.getPixelForValue(t.value)+2, Math.round(Math.log10(t.value)), 'right'));
      } else {
        ctx.font=TF; ctx.textAlign='center'; ctx.textBaseline='middle';
        xs.ticks.forEach(t=>ctx.fillText(linFmt(t.value), xs.getPixelForValue(t.value), B+6));
        ctx.textAlign='right';
        ys.ticks.forEach(t=>ctx.fillText(linFmt(t.value), L-4, ys.getPixelForValue(t.value)));
      }
      ctx.fillStyle='#000'; ctx.font=TTF; ctx.textAlign='center'; ctx.textBaseline='middle';
      ctx.fillText(p.title, (L+R)/2, T-10);
      ctx.restore();
    }
  };
}

function makePanel(p){
  const [L,T,R,B]=p.g, YW=40, XH=22, PT=22, PR=16;
  const w=R-L+YW+PR, h=B-T+PT+XH;
  const c=document.createElement('canvas');
  c.width=w; c.height=h;
  c.style.left=(L-YW)+'px'; c.style.top=(T-PT)+'px'; c.style.width=w+'px'; c.style.height=h+'px';
  document.body.appendChild(c);
  let datasets;
  if(p.log){
    datasets=[{data:p.mx.map((x,i)=>({x:x,y:p.my[i]}))}];
    if(p.bx){
      datasets.push({data:p.bx.map((x,i)=>({x:x,y:p.bhi[i]}))});
      datasets.push({data:p.bx.map((x,i)=>({x:x,y:p.blo[i]})), fill:'-1', backgroundColor:'#000'});
    }
  } else {
    datasets=p.S.map(ys=>({data:p.X.map((x,i)=>({x:x,y:ys[i]}))}));
  }
  datasets.forEach(d=>{
    d.borderColor='#000'; d.borderWidth=1; d.pointRadius=0;
    if(d.fill===undefined) d.fill=false;
    d.tension = p.smooth?0.4:0;
    d.cubicInterpolationMode = p.smooth?'monotone':'default';
  });
  const common = {grid:{display:false, drawTicks:false}, border:{display:false}};
  const xScale = p.log
    ? Object.assign({type:'logarithmic', min:1, max:1e5, ticks:{display:false},
        afterBuildTicks:s=>{s.ticks=MSE_X_TICKS.map(v=>({value:v}));}, afterFit:s=>{s.height=XH;}}, common)
    : Object.assign({type:'linear', min:0, max:100, ticks:{display:false, stepSize:20},
        afterFit:s=>{s.height=XH;}}, common);
  const yScale = p.log
    ? Object.assign({type:'logarithmic', min:0.01, max:1, ticks:{display:false},
        afterBuildTicks:s=>{s.ticks=MSE_Y_TICKS.map(v=>({value:v}));}, afterFit:s=>{s.width=YW;}}, common)
    : Object.assign({type:'linear', min:p.ymin, max:p.ymax, ticks:{display:false, stepSize:p.step},
        afterFit:s=>{s.width=YW;}}, common);
  new Chart(c, {
    type:'line',
    data:{datasets:datasets},
    options:{
      responsive:false, animation:false, devicePixelRatio:1, events:[],
      layout:{padding:{top:PT,right:PR,left:0,bottom:0}},
      plugins:{legend:{display:false}, tooltip:{enabled:false}, title:{display:false}},
      scales:{x:xScale, y:yScale}
    },
    plugins:[makeFrame(p)]
  });
}
PANELS.forEach(makePanel);
</script>
</body></html>
